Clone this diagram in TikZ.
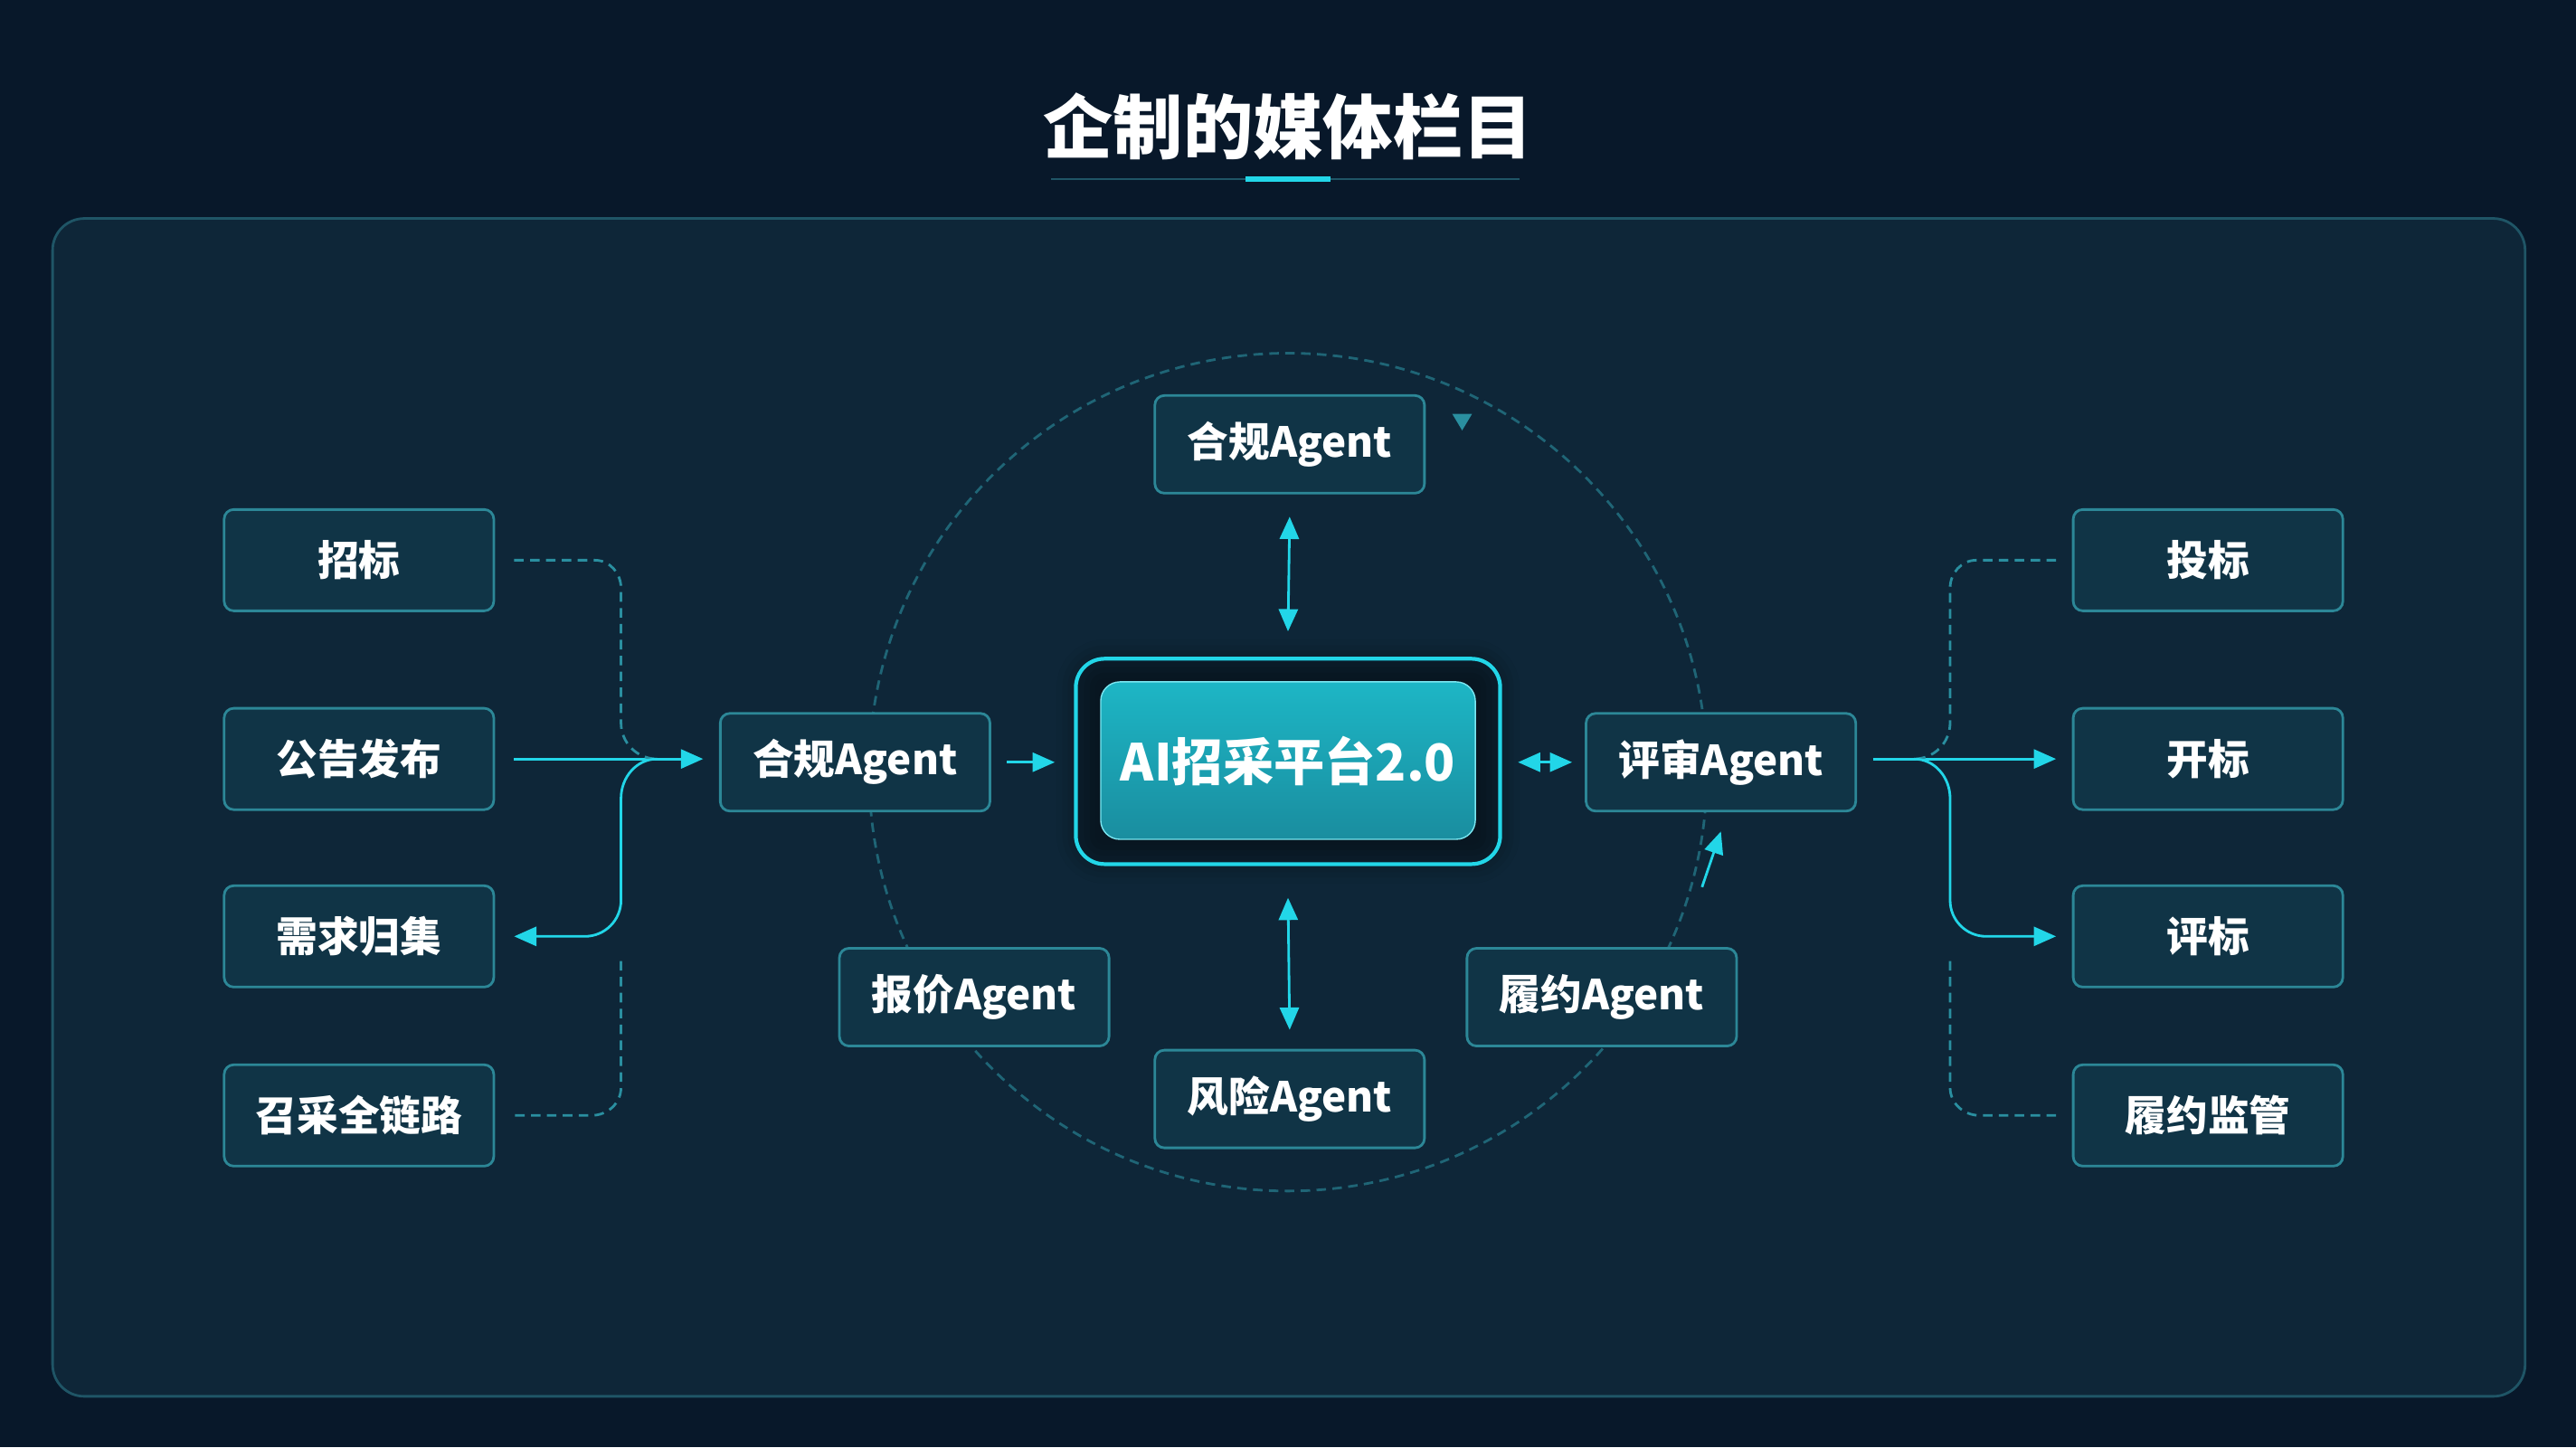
\documentclass[tikz,border=0pt]{standalone}
\usepackage{fontspec}
\setmainfont{Noto Sans CJK SC}
\usetikzlibrary{arrows.meta,positioning,shadows.blur}
\definecolor{bgdark}{HTML}{08182A}
\definecolor{panel}{HTML}{0E2638}
\definecolor{panelline}{HTML}{1F5566}
\definecolor{boxfill}{HTML}{103446}
\definecolor{boxline}{HTML}{2C8797}
\definecolor{cyanl}{HTML}{22D6E8}
\definecolor{dashc}{HTML}{2A8FA0}
\tikzset{
  agentbox/.style={draw=boxline, fill=boxfill, rounded corners=3pt, line width=0.8pt,
    minimum width=2.98cm, minimum height=1.08cm, text=white, font=\bfseries\fontsize{13}{15}\selectfont},
  sidebox/.style={agentbox, minimum height=1.12cm},
  link/.style={cyanl, line width=0.8pt},
  dlink/.style={dashc, line width=0.8pt, dash pattern=on 3pt off 2pt},
  tip/.style={-{Triangle[length=7pt,width=6pt]}},
  tips/.style={{Triangle[length=7pt,width=6pt]}-{Triangle[length=7pt,width=6pt]}},
}
\begin{document}
\begin{tikzpicture}[x=0.018163cm, y=-0.018163cm]
	%Background and panel
	\fill[bgdark] (0,0) rectangle (1568,881);
	\useasboundingbox (0,0) rectangle (1568,881);
	\draw[panelline, fill=panel, rounded corners=10pt, line width=0.8pt] (32,133) rectangle (1537,850);

	%Title
	\node[text=white, font=\bfseries\fontsize{22}{26}\selectfont] (title) at (784,77) {企制的媒体栏目};
	\draw[panelline, line width=0.5pt] (640,109) -- (925,109);
	\fill[cyanl] (758,107.5) rectangle (810,110.5);

	%Dashed circle behind the agents
	\draw[dlink, dashc!60!panel] (784,470) circle (255);
	\fill[dashc] (884,252) -- (896,252) -- (890,262) -- cycle;

	%Centre platform
	\node[draw=cyanl, line width=1.2pt, rounded corners=9pt, minimum width=4.69cm, minimum height=2.27cm,
	      blur shadow={shadow blur radius=6pt, shadow xshift=0pt, shadow yshift=0pt, shadow opacity=40, shadow blur extra rounding=6pt}] (hub) at (784,463.5) {};
	\node[draw=cyanl!60, top color=cyanl!85!black, bottom color=cyanl!55!boxfill, rounded corners=6pt,
	      minimum width=4.14cm, minimum height=1.74cm, text=white, font=\bfseries\fontsize{16}{19}\selectfont] (core) at (784,463) {AI招采平台2.0};

	%Agents
	\node[agentbox] (hgtop) at (785,270.5) {合规Agent};
	\node[agentbox] (hgleft) at (520.5,464) {合规Agent};
	\node[agentbox] (ps) at (1047.5,464) {评审Agent};
	\node[agentbox] (bj) at (593,607) {报价Agent};
	\node[agentbox] (ly) at (975,607) {履约Agent};
	\node[agentbox] (fx) at (785,669) {风险Agent};

	%Left column
	\node[sidebox] (zb) at (218.5,341) {招标};
	\node[sidebox] (gg) at (218.5,462) {公告发布};
	\node[sidebox] (xq) at (218.5,570) {需求归集};
	\node[sidebox] (zc) at (218.5,679) {召采全链路};

	%Right column
	\node[sidebox] (tb) at (1344,341) {投标};
	\node[sidebox] (kb) at (1344,462) {开标};
	\node[sidebox] (pb) at (1344,570) {评标};
	\node[sidebox] (lyjg) at (1344,679) {履约监管};

	%Hub links
	\draw[link, tips] ([yshift=-7pt]hgtop.south) -- ([yshift=8pt]hub.north);
	\draw[link, tips] ([yshift=-10pt]hub.south) -- ([yshift=6pt]fx.north);
	\draw[link, tip] ([xshift=5pt]hgleft.east) -- ([xshift=-6pt]hub.west |- hgleft.east);
	\draw[link, tips] ([xshift=5pt]hub.east |- ps.west) -- ([xshift=-4pt]ps.west);
	\draw[link, tip] (1036,540) -- ([yshift=-6pt]ps.south);

	%Left bracket
	\draw[link, tip] ([xshift=6pt]gg.east) -- ([xshift=-5pt]hgleft.west |- gg.east);
	\draw[dlink] ([xshift=6pt]zb.east) -- (362,341) to[out=0,in=90] (378,358) -- (378,440) to[out=-90,in=180] (400,462);
	\draw[link, tip] (400,462) to[out=180,in=90] (378,486) -- (378,548) to[out=-90,in=0] (356,570) -- ([xshift=6pt]xq.east);
	\draw[dlink] (378,585) -- (378,662) to[out=-90,in=0] (360,679) -- ([xshift=6pt]zc.east);

	%Right bracket
	\draw[link, tip] ([xshift=5pt]ps.east |- kb.west) -- ([xshift=-5pt]kb.west);
	\draw[dlink] ([xshift=-5pt]tb.west) -- (1203,341) to[out=180,in=90] (1187,358) -- (1187,440) to[out=-90,in=0] (1165,462);
	\draw[link, tip] (1165,462) to[out=0,in=90] (1187,486) -- (1187,548) to[out=-90,in=180] (1209,570) -- ([xshift=-5pt]pb.west);
	\draw[dlink] (1187,585) -- (1187,662) to[out=-90,in=180] (1205,679) -- ([xshift=-5pt]lyjg.west);
\end{tikzpicture}
\end{document}
